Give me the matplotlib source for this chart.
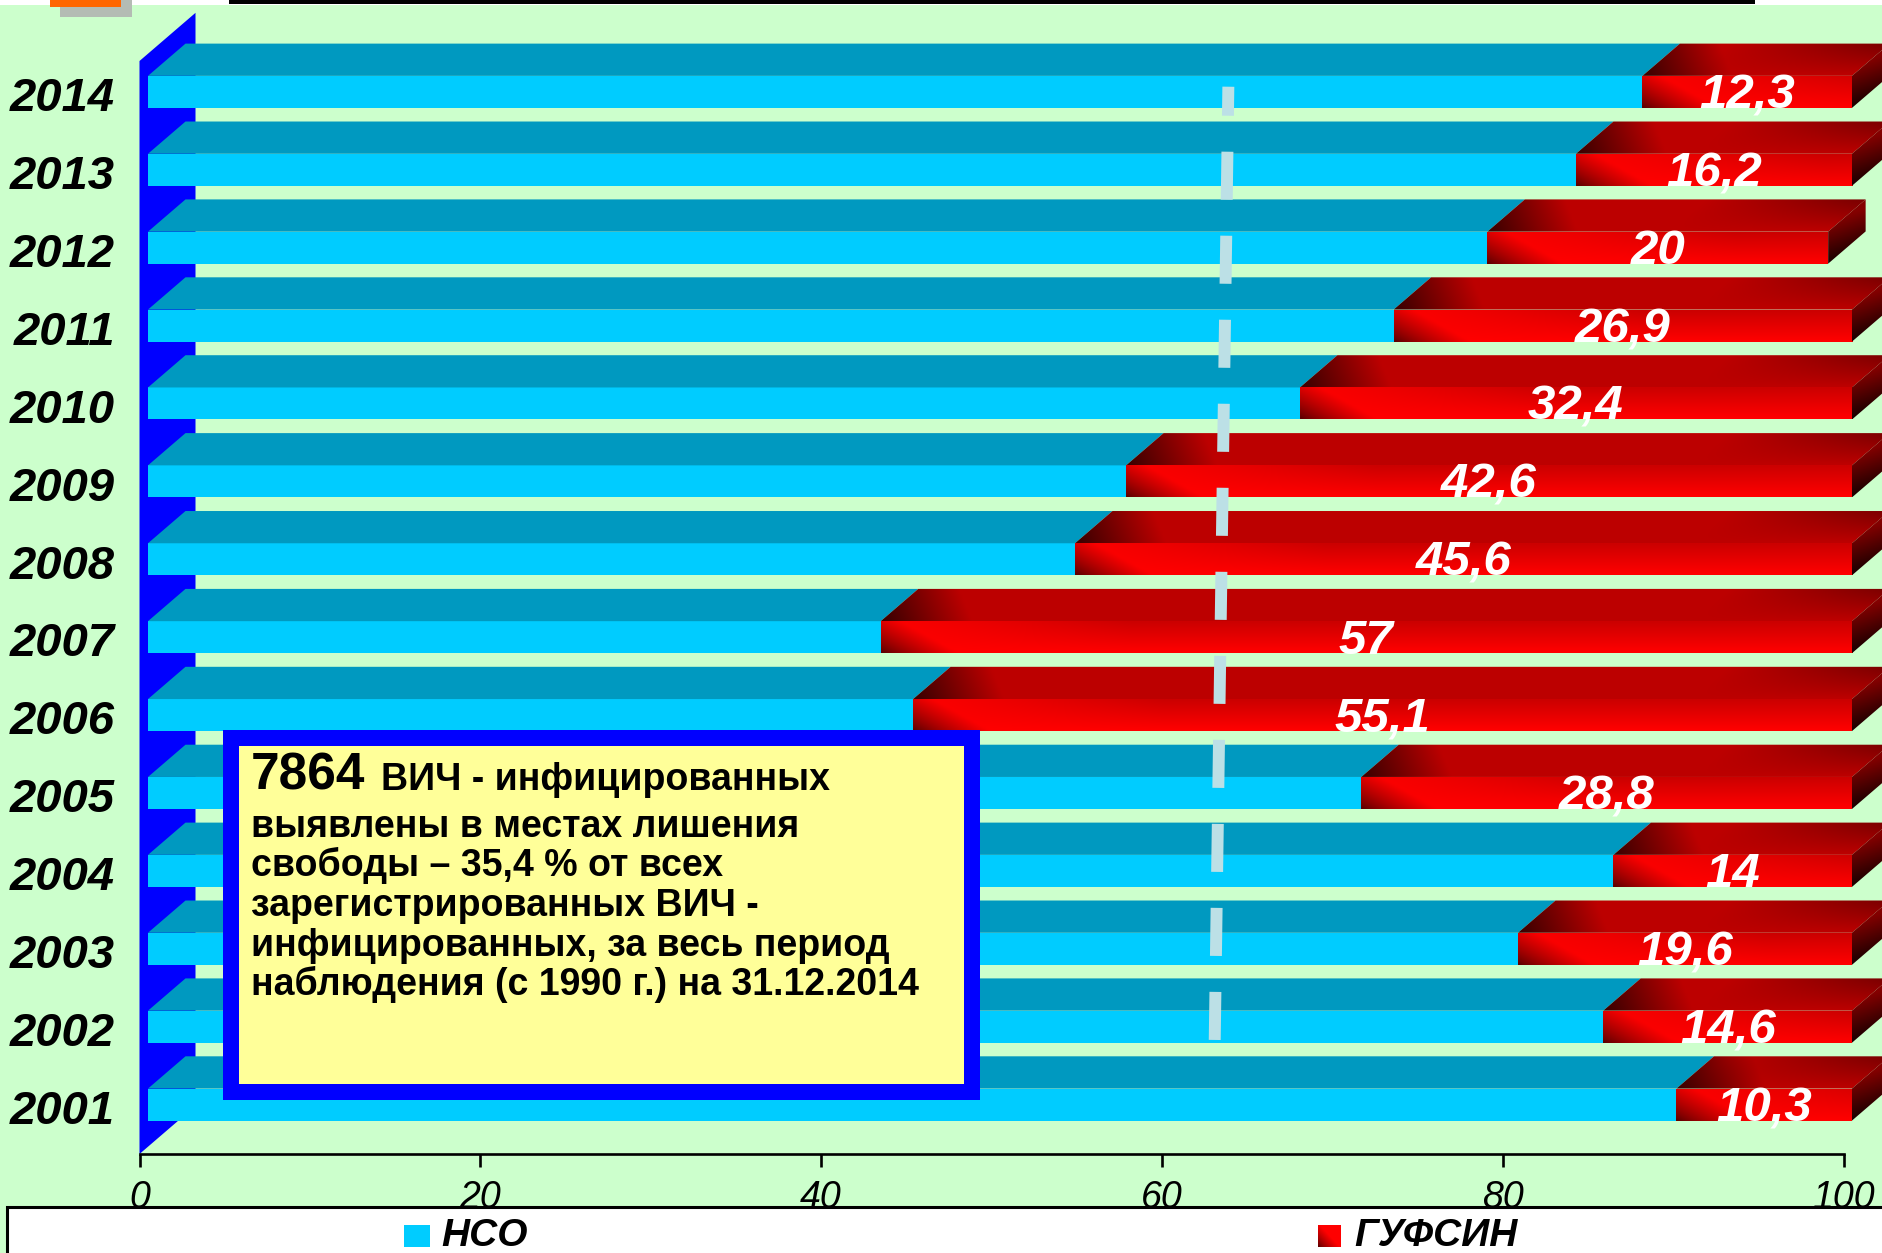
import numpy as np
import matplotlib
matplotlib.use("Agg")
import matplotlib.pyplot as plt
from matplotlib.patches import Polygon, Rectangle

# ---- data -------------------------------------------------------------
years = ["2001", "2002", "2003", "2004", "2005", "2006", "2007",
         "2008", "2009", "2010", "2011", "2012", "2013", "2014"]
nso = [89.7, 85.4, 80.4, 86.0, 71.2, 44.9, 43.0,
       54.4, 57.4, 67.6, 73.1, 78.6, 83.8, 87.7]
gufsin = [10.3, 14.6, 19.6, 14.0, 28.8, 55.1, 57.0,
          45.6, 42.6, 32.4, 26.9, 20.0, 16.2, 12.3]
series_names = ["НСО", "ГУФСИН"]
x_ticks = [0, 20, 40, 60, 80, 100]
guide_x = [63.9, 63.1]       # dashed guide line, x at top / bottom
guide_y = [13.16, 0.92]

note_lines = ["выявлены в местах лишения",
              "свободы – 35,4 % от всех",
              "зарегистрированных ВИЧ -",
              "инфицированных, за весь период",
              "наблюдения (с 1990 г.) на 31.12.2014"]

# ---- style / geometry -------------------------------------------------
plt.rcParams["font.family"] = ["Liberation Sans", "DejaVu Sans"]
plt.rcParams["lines.scale_dashes"] = False

W, H = 1883, 1253
BG = "#CCFFCC"
CYAN = "#00CCFF"
CYAN_TOP = "#0099C0"
WALL = "#0000FF"

PXX = 17.04      # pixels per x unit
PXY = 77.9       # pixels per category
X0PX = 139.5     # pixel column of x = 0
YREF_PX, YREF = 61.0, 13.49
Y_AXIS = -0.541
SLOPE = 0.86


def depth(d):
    return d / PXX, SLOPE * d / PXY


fig = plt.figure(figsize=(W / 100, H / 100), dpi=100, facecolor=BG)
ax = fig.add_axes([0, 0, 1, 1])
ax.set_facecolor("none")
ax.set_autoscale_on(False)
xlim = (-X0PX / PXX, (W - X0PX) / PXX)
ylim = (YREF - (H - YREF_PX) / PXY, YREF + YREF_PX / PXY)
ax.set_xlim(*xlim)
ax.set_ylim(*ylim)

# back wall of the 3-D frame
wx, wy = depth(56)
ax.add_patch(Polygon([(0, Y_AXIS), (0, YREF), (wx, YREF + wy), (wx, Y_AXIS + wy)],
                     closed=True, fc=WALL, ec="none", zorder=1))


def red_front(w_px, h_px):
    nx, ny = max(2, int(w_px / 3)), max(2, int(h_px / 2))
    U, V = np.meshgrid(np.linspace(0, w_px, nx), np.linspace(0, 1, ny))
    t = np.clip((U + 55 * V) / 75, 0, 1)
    b = 0.36 + 0.64 * t ** 0.8
    b *= 1 - 0.2 * V * np.clip(U / 250, 0, 1)
    return np.dstack([b, np.zeros_like(b), np.zeros_like(b)])


def red_top(len_px, dx_px, h_px):
    w_px = len_px + dx_px
    nx, ny = max(2, int(w_px / 3)), max(2, int(h_px / 2))
    X, Y = np.meshgrid(np.linspace(0, w_px, nx), np.linspace(0, h_px, ny))
    w = Y / h_px
    u = X - w * dx_px
    b = 0.22 + 0.52 * np.clip((u + 50 * w) / 90, 0, 1)
    b *= 1 - 0.35 * w * np.clip((u - (len_px - 160)) / 160, 0, 1)
    return np.dstack([b, np.zeros_like(b), np.zeros_like(b)])


def red_side(dx_px, dy_px, h_px):
    nx, ny = 14, 30
    X, Y = np.meshgrid(np.linspace(0, dx_px, nx), np.linspace(0, dy_px + h_px, ny))
    w = X / dx_px
    v = (Y - w * dy_px) / h_px
    b = 0.1 + 0.42 * np.clip(v * 0.75 + w * 0.45, 0, 1)
    return np.dstack([b, np.zeros_like(b), np.zeros_like(b)])


def shaded(arr, extent, clip, z):
    clip.set_transform(ax.transData)
    im = ax.imshow(arr, extent=extent, origin="lower", aspect="auto",
                   interpolation="bilinear", zorder=z)
    im.set_clip_path(clip)


fx, fy = depth(8.5)
bx, by = depth(46)
ddx, ddy = bx - fx, by - fy
hh = 16 / PXY

for i, (n, g) in enumerate(zip(nso, gufsin)):
    yc = i + fy
    yb, yt = yc - hh, yc + hh
    x0, xm, xe = fx, n + fx, n + g + fx

    # NSO segment
    ax.add_patch(Rectangle((x0, yb), n, 2 * hh, fc=CYAN, ec="none", zorder=3))
    ax.add_patch(Polygon([(x0, yt), (xm, yt), (xm + ddx, yt + ddy), (x0 + ddx, yt + ddy)],
                         closed=True, fc=CYAN_TOP, ec="none", zorder=3))

    # GUFSIN segment (shaded box)
    len_px = g * PXX
    shaded(red_front(len_px, 32), [xm, xe, yb, yt],
           Rectangle((xm, yb), g, 2 * hh), 4)
    shaded(red_top(len_px, ddx * PXX, ddy * PXY), [xm, xe + ddx, yt, yt + ddy],
           Polygon([(xm, yt), (xe, yt), (xe + ddx, yt + ddy), (xm + ddx, yt + ddy)]), 4)
    shaded(red_side(ddx * PXX, ddy * PXY, 32), [xe, xe + ddx, yb, yt + ddy],
           Polygon([(xe, yb), (xe, yt), (xe + ddx, yt + ddy), (xe + ddx, yb + ddy)]), 4)

    label = f"{g:g}".replace(".", ",")
    ax.text(n + g / 2 + fx, yc - 4 / PXY, label, color="white", fontsize=35.5,
            fontweight="bold", fontstyle="italic", ha="center", va="center", zorder=6)

    ax.text((115 - X0PX) / PXX, i, years[i], color="black", fontsize=34,
            fontweight="bold", fontstyle="italic", ha="right", va="center", zorder=6)

# dashed guide line
ax.plot(guide_x, guide_y, color="#BCE0E6", lw=8.6,
        linestyle=(13.7, (34.6, 25.9)), dash_capstyle="butt", zorder=7)

# x axis
for s in ("top", "left", "right"):
    ax.spines[s].set_visible(False)
ax.spines["bottom"].set_position(("data", Y_AXIS))
ax.spines["bottom"].set_bounds(0, 100)
ax.spines["bottom"].set_linewidth(1.9)
ax.set_yticks([])
ax.set_xticks(x_ticks)
ax.set_xticklabels([str(t) for t in x_ticks])
ax.tick_params(axis="x", direction="out", length=9.4, width=1.9, pad=9,
               labelsize=27, colors="black")
for lbl in ax.get_xticklabels():
    lbl.set_fontstyle("italic")


# ---- figure-level decorations (pixel positions from top-left) --------
def fxp(px):
    return px / W


def fyp(py):
    return 1 - py / H


def box(x0, y0, x1, y1, z, **kw):
    r = Rectangle((fxp(x0), fyp(y1)), (x1 - x0) / W, (y1 - y0) / H,
                  transform=fig.transFigure, zorder=z, **kw)
    fig.add_artist(r)
    return r


# top strip
box(-5, -5, W + 5, 4.5, 2, fc="white", ec="none")
box(229, -5, 1755, 3.5, 2.1, fc="black", ec="none")
box(60, -5, 132, 17, 2.2, fc="#B4BCB4", ec="none")
box(50, -5, 121, 7, 2.3, fc="#FF6600", ec="none")

# note box
box(223, 730, 980, 1100, 2, fc=WALL, ec="none")
box(239, 746, 964, 1084, 2.1, fc="#FFFF99", ec="none")
fig.text(fxp(251), fyp(790), "7864", fontsize=37, fontweight="bold",
         va="baseline", ha="left", zorder=3)
fig.text(fxp(381), fyp(790), "ВИЧ - инфицированных", fontsize=27, fontweight="bold",
         va="baseline", ha="left", zorder=3)
for k, line in enumerate(note_lines):
    fig.text(fxp(251), fyp(837 + 39.5 * k), line, fontsize=27, fontweight="bold",
             va="baseline", ha="left", zorder=3)

# legend
box(7, 1207, W + 20, H + 20, 2.5, fc="white", ec="black", lw=2.2)
box(404, 1225, 430, 1247, 2.6, fc=CYAN, ec="none")
U, V = np.meshgrid(np.linspace(0, 23, 23), np.linspace(1, 0, 22))
bsq = 0.36 + 0.64 * np.clip((U + 20 * V) / 22, 0, 1) ** 0.8
sq = np.dstack([bsq, np.zeros_like(bsq), np.zeros_like(bsq)])
fig.figimage(sq, xo=1318, yo=H - 1247, origin="upper", zorder=3)
fig.text(fxp(441), fyp(1246), series_names[0], fontsize=28, fontweight="bold",
         fontstyle="italic", va="baseline", zorder=3)
fig.text(fxp(1354), fyp(1246), series_names[1], fontsize=28, fontweight="bold",
         fontstyle="italic", va="baseline", zorder=3)

ax.set_xlim(*xlim)
ax.set_ylim(*ylim)
fig.savefig("out.png", dpi=100, facecolor=BG)
